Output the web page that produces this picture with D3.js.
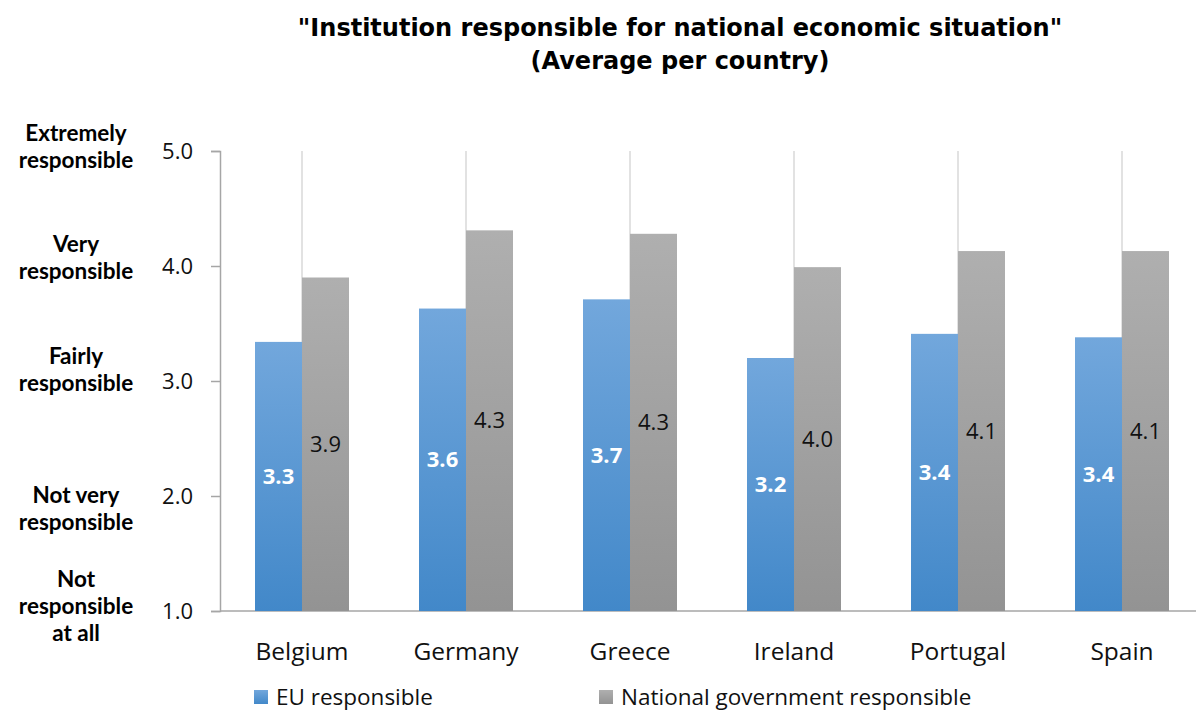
<!DOCTYPE html>
<html>
<head>
<meta charset="utf-8">
<script src="https://cdn.jsdelivr.net/npm/d3@7"></script>
<style>
  html, body { margin: 0; padding: 0; background: #fff; }
  svg { display: block; }
</style>
</head>
<body>
<svg id="chart" width="1196" height="711"></svg>
<script>
// Survey averages per country (1 = not responsible at all, 5 = extremely responsible)
const countries = ["Belgium", "Germany", "Greece", "Ireland", "Portugal", "Spain"];
const euValues = [3.34, 3.63, 3.71, 3.20, 3.41, 3.38];
const nationalValues = [3.90, 4.31, 4.28, 3.99, 4.13, 4.13];
const seriesNames = ["EU responsible", "National government responsible"];
const yTicks = [1, 2, 3, 4, 5];
const scaleLabels = [
  ["Not", "responsible", "at all"],
  ["Not very", "responsible"],
  ["Fairly", "responsible"],
  ["Very", "responsible"],
  ["Extremely", "responsible"]
];

const svg = d3.select("#chart");
const margin = { left: 220, top: 151, bottom: 611, right: 1204 };
const textFont = "'Open Sans', 'Noto Sans', sans-serif";

const x = d3.scaleBand().domain(countries).range([margin.left, margin.right]);
const y = d3.scaleLinear().domain([1, 5]).range([margin.bottom, margin.top]);
const barW = 47;

// Gradients for the bar fills
const defs = svg.append("defs");
function gradient(id, top, bottom) {
  const g = defs.append("linearGradient").attr("id", id)
    .attr("x1", 0).attr("y1", 0).attr("x2", 0).attr("y2", 1);
  g.append("stop").attr("offset", "0%").attr("stop-color", top);
  g.append("stop").attr("offset", "100%").attr("stop-color", bottom);
}
gradient("gradEU", "#72a7dc", "#4288c9");
gradient("gradNat", "#afafaf", "#939393");

// Title
const title = svg.append("text")
  .attr("x", 680).attr("text-anchor", "middle")
  .style("font-family", "'DejaVu Sans', sans-serif")
  .style("font-weight", "bold").style("font-size", "24px").attr("fill", "#000");
title.append("tspan").attr("x", 680).attr("y", 36)
  .text("\"Institution responsible for national economic situation\"");
title.append("tspan").attr("x", 680).attr("y", 69).text("(Average per country)");

// Vertical gridlines at each category centre
svg.append("g").selectAll("line").data(countries).join("line")
  .attr("x1", d => x(d) + x.bandwidth() / 2).attr("x2", d => x(d) + x.bandwidth() / 2)
  .attr("y1", y(5)).attr("y2", y(1))
  .attr("stroke", "#d9d9d9").attr("stroke-width", 1.5);

// Y axis
const yAxis = svg.append("g").attr("transform", `translate(${margin.left},0)`)
  .call(d3.axisLeft(y).tickValues(yTicks).tickFormat(d3.format(".1f")).tickSize(9).tickPadding(18));
yAxis.select(".domain").attr("stroke", "#a6a6a6").attr("stroke-width", 1.5);
yAxis.selectAll(".tick line").attr("stroke", "#a6a6a6").attr("stroke-width", 1.5);
yAxis.selectAll(".tick text")
  .style("font-family", textFont).style("font-size", "22px").attr("fill", "#111").attr("dy", "0.35em");

// Scale meaning labels to the left of the axis
const labelOffsets = [-5, 12.5, -12, -8.5, -5];
const scaleG = svg.append("g");
yTicks.forEach((t, i) => {
  const lines = scaleLabels[i];
  const lh = 27;
  const txt = scaleG.append("text").attr("text-anchor", "middle")
    .style("font-family", "Lato, 'Open Sans', sans-serif").style("font-weight", "bold")
    .style("font-size", "22.5px").attr("fill", "#000");
  lines.forEach((ln, j) => {
    txt.append("tspan").attr("x", 76)
      .attr("y", y(t) + labelOffsets[i] + (j - (lines.length - 1) / 2) * lh + 8)
      .text(ln);
  });
});

// X axis baseline
svg.append("line")
  .attr("x1", margin.left).attr("x2", margin.right)
  .attr("y1", y(1)).attr("y2", y(1))
  .attr("stroke", "#a6a6a6").attr("stroke-width", 1.5);

// Bars
const rows = countries.map((c, i) => ({ c, eu: euValues[i], nat: nationalValues[i] }));
const fmt = d3.format(".1f");
const cx = d => x(d.c) + x.bandwidth() / 2;

svg.append("g").selectAll("rect").data(rows).join("rect")
  .attr("x", d => cx(d) - barW).attr("width", barW)
  .attr("y", d => y(d.eu)).attr("height", d => y(1) - y(d.eu))
  .attr("fill", "url(#gradEU)");
svg.append("g").selectAll("rect").data(rows).join("rect")
  .attr("x", d => cx(d)).attr("width", barW)
  .attr("y", d => y(d.nat)).attr("height", d => y(1) - y(d.nat))
  .attr("fill", "url(#gradNat)");

// Value labels centred in the bars
svg.append("g").selectAll("text").data(rows).join("text")
  .attr("x", d => cx(d) - barW / 2).attr("y", d => (y(d.eu) + y(1)) / 2)
  .attr("dy", "0.35em").attr("text-anchor", "middle")
  .style("font-family", textFont).style("font-weight", "bold").style("font-size", "22px")
  .attr("fill", "#fff").text(d => fmt(d.eu));
svg.append("g").selectAll("text").data(rows).join("text")
  .attr("x", d => cx(d) + barW / 2).attr("y", d => (y(d.nat) + y(1)) / 2)
  .attr("dy", "0.35em").attr("text-anchor", "middle")
  .style("font-family", textFont).style("font-size", "22px")
  .attr("fill", "#111").text(d => fmt(d.nat));

// Category labels
svg.append("g").selectAll("text").data(countries).join("text")
  .attr("x", d => x(d) + x.bandwidth() / 2).attr("y", 651).attr("dy", "0.35em")
  .attr("text-anchor", "middle")
  .style("font-family", textFont).style("font-size", "24.5px").attr("fill", "#111")
  .text(d => d);

// Legend
const legendX = [254, 599];
const legendFill = ["url(#gradEU)", "url(#gradNat)"];
const legend = svg.append("g").selectAll("g").data(seriesNames).join("g")
  .attr("transform", (d, i) => `translate(${legendX[i]},690)`);
legend.append("rect").attr("width", 14).attr("height", 14)
  .attr("fill", (d, i) => legendFill[i]);
legend.append("text").attr("x", 22).attr("y", 7).attr("dy", "0.35em")
  .style("font-family", textFont).style("font-size", "22.5px").attr("fill", "#111")
  .text(d => d);
</script>
</body>
</html>
